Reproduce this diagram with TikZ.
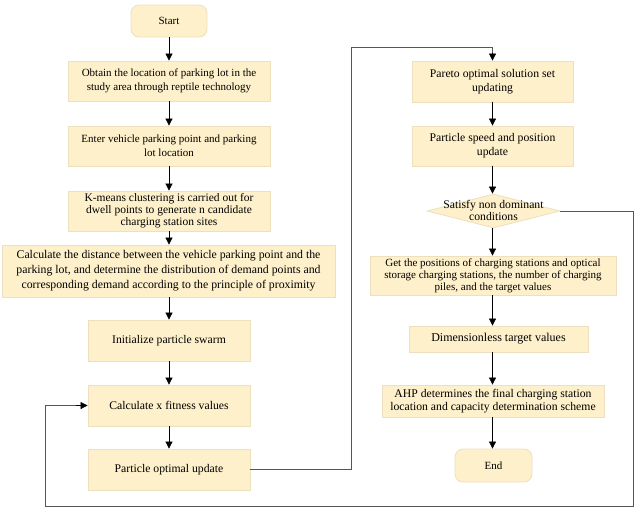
\documentclass[tikz,border=0pt]{standalone}
\usepackage{fontspec}
\setmainfont{Liberation Serif}
\usepackage{tikz}
\usepackage{xcolor}
\usetikzlibrary{arrows.meta,positioning,calc,shapes.geometric}

\definecolor{boxfill}{RGB}{253,240,202}
\definecolor{boxline}{RGB}{236,224,190}
\definecolor{loopgray}{RGB}{85,85,85}

\begin{document}
\begin{tikzpicture}[x=1pt, y=-1pt,
    every node/.style={font=\fontsize{11.7}{14}\selectfont, align=center, inner sep=0pt},
    stepbox/.style={draw=boxline, fill=boxfill, line width=0.8pt},
    terminal/.style={stepbox, rounded corners=8pt},
    decision/.style={diamond, draw=boxline, fill=boxfill, line width=0.8pt, aspect=3.9},
    flow/.style={-{Triangle[length=7pt, width=7pt]}, line width=0.7pt},
    loopline/.style={line width=0.9pt, loopgray}]
  \useasboundingbox (0,0) rectangle (639,512);

  % Left column
  \node[terminal, minimum width=76, minimum height=32,
        font=\fontsize{11}{13}\selectfont] (start) at (169,21) {Start};
  \node[stepbox, minimum width=202, minimum height=40,
        font=\fontsize{11}{14}\selectfont] (obtain) at (169,81)
    {Obtain the location of parking lot in the\\study area through reptile technology};
  \node[stepbox, minimum width=202, minimum height=40,
        font=\fontsize{11}{14}\selectfont] (enter) at (169,146)
    {Enter vehicle parking point and parking\\lot location};
  \node[stepbox, minimum width=202, minimum height=40,
        font=\fontsize{11.5}{12}\selectfont] (kmeans) at (169,211)
    {K-means clustering is carried out for\\dwell points to generate n candidate\\charging station sites};
  \node[stepbox, minimum width=333, minimum height=52,
        font=\fontsize{11.8}{15}\selectfont] (dist) at (168.5,271)
    {Calculate the distance between the vehicle parking point and the\\parking lot, and determine the distribution of demand points and\\corresponding demand according to the principle of proximity};
  \node[stepbox, minimum width=162, minimum height=41] (init) at (169,340.5)
    {Initialize particle swarm};
  \node[stepbox, minimum width=162, minimum height=41] (fit) at (169,405.5)
    {Calculate x fitness values};
  \node[stepbox, minimum width=162, minimum height=41] (pbest) at (169,469.5)
    {Particle optimal update};

  % Right column
  \node[stepbox, minimum width=161, minimum height=41] (pareto) at (492.5,81.5)
    {Pareto optimal solution set\\updating};
  \node[stepbox, minimum width=161, minimum height=40] (speed) at (492.5,146)
    {Particle speed and position\\update};
  \node[decision, minimum width=133, minimum height=34] (cond) at (493.5,211) {};
  \node[font=\fontsize{11.7}{12}\selectfont] (condtext) at (493.5,210)
    {Satisfy non dominant\\conditions};
  \node[stepbox, minimum width=246, minimum height=39,
        font=\fontsize{11}{12}\selectfont] (get) at (493,275.5)
    {Get the positions of charging stations and optical\\storage charging stations, the number of charging\\piles, and the target values};
  \node[stepbox, minimum width=179, minimum height=26,
        font=\fontsize{12}{14}\selectfont] (dimless) at (498.5,339)
    {Dimensionless target values};
  \node[stepbox, minimum width=222, minimum height=32,
        font=\fontsize{11.7}{13}\selectfont] (ahp) at (493,401)
    {AHP determines the final charging station\\location and capacity determination scheme};
  \node[terminal, minimum width=77, minimum height=33,
        font=\fontsize{11}{13}\selectfont] (finish) at (493.5,465.5) {End};

  % Main flow
  \draw[flow] (start) -- (obtain);
  \draw[flow] (obtain) -- (enter);
  \draw[flow] (enter) -- (kmeans);
  \draw[flow] (kmeans) -- (dist.north -| kmeans);
  \draw[flow] (dist.south -| init) -- (init);
  \draw[flow] (init) -- (fit);
  \draw[flow] (fit) -- (pbest);
  \draw[flow] (pareto) -- (speed.north -| pareto);
  \draw[flow] (speed.south -| pareto) -- (cond.north -| pareto);
  \draw[flow] (cond.south -| pareto) -- (get.north -| pareto);
  \draw[flow] (get.south -| pareto) -- (dimless.north -| pareto);
  \draw[flow] (dimless.south -| pareto) -- (ahp.north -| pareto);
  \draw[flow] (ahp.south -| pareto) -- (finish.north -| pareto);

  % Loops
  \coordinate (up) at (351,47);
  \coordinate (br) at (633,506);
  \coordinate (bl) at (45,506);
  \draw[loopline] (pbest.east) -| (up) -| ($(pareto.north)+(0,-8)$);
  \draw[flow] ($(pareto.north)+(0,-8)$) -- (pareto.north);
  \draw[loopline] (cond.east) -| (br) -- (bl) |- ($(fit.west)+(-12,0)$);
  \draw[flow] ($(fit.west)+(-12,0)$) -- (fit.west);
\end{tikzpicture}
\end{document}
